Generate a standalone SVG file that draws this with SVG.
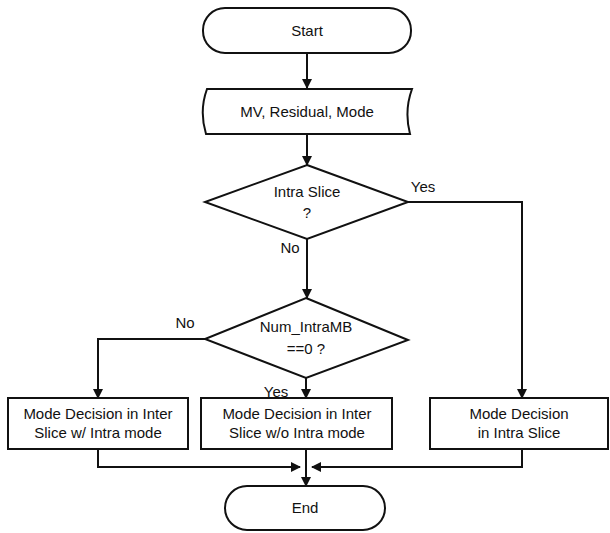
<svg xmlns="http://www.w3.org/2000/svg" width="610" height="533" viewBox="0 0 610 533">
<style>
.s{fill:#fff;stroke:#111;stroke-width:2}
.t{font-family:"Liberation Sans",Arial,sans-serif;font-size:15px;fill:#111;text-anchor:middle}
.c{fill:none;stroke:#111;stroke-width:2}
</style>
<defs>
<marker id="a" markerWidth="10" markerHeight="10" refX="9" refY="5" orient="auto" markerUnits="userSpaceOnUse">
<path d="M0,0 L10,5 L0,10 Z" fill="#111"/>
</marker>
</defs>
<rect width="610" height="533" fill="#fff"/>
<g id="connectors">
<path class="c" d="M307,53 V88" marker-end="url(#a)"/>
<path class="c" d="M307,134 V165" marker-end="url(#a)"/>
<path class="c" d="M408,202 H522 V398" marker-end="url(#a)"/>
<path class="c" d="M307,239 V298" marker-end="url(#a)"/>
<path class="c" d="M205,339 H98 V398" marker-end="url(#a)"/>
<path class="c" d="M306,378 V398" marker-end="url(#a)"/>
<path class="c" d="M98,449 V467 H300" marker-end="url(#a)"/>
<path class="c" d="M522,449 V467 H312" marker-end="url(#a)"/>
<path class="c" d="M306,449 V486" marker-end="url(#a)"/>
</g>
<g id="start">
<rect class="s" x="203" y="8" width="208" height="45" rx="22" ry="22"/>
<text class="t" x="307" y="36">Start</text>
</g>
<g id="input">
<path class="s" d="M207,89 H412 Q404,111 410,134 H206 Q199,111 207,89 Z"/>
<text class="t" x="307" y="117">MV, Residual, Mode</text>
</g>
<g id="d1">
<polygon class="s" points="307,165 408,202 307,239 205,202"/>
<text class="t" x="307" y="197">Intra Slice</text>
<text class="t" x="307" y="218">?</text>
</g>
<text class="t" x="423" y="192">Yes</text>
<text class="t" x="290" y="253">No</text>
<g id="d2">
<polygon class="s" points="306,298 408,340 306,378 205,339"/>
<text class="t" x="306" y="332">Num_IntraMB</text>
<text class="t" x="306" y="354">==0 ?</text>
</g>
<text class="t" x="185" y="328">No</text>
<text class="t" x="276" y="397">Yes</text>
<g id="b1">
<rect class="s" x="8" y="398" width="180" height="51"/>
<text class="t" x="98" y="419">Mode Decision in Inter</text>
<text class="t" x="98" y="438">Slice w/ Intra mode</text>
</g>
<g id="b2">
<rect class="s" x="201" y="398" width="191" height="51"/>
<text class="t" x="297" y="419">Mode Decision in Inter</text>
<text class="t" x="297" y="438">Slice w/o Intra mode</text>
</g>
<g id="b3">
<rect class="s" x="430" y="398" width="178" height="51"/>
<text class="t" x="519" y="419">Mode Decision</text>
<text class="t" x="519" y="438">in Intra Slice</text>
</g>
<g id="end">
<rect class="s" x="225" y="486" width="160" height="44" rx="22" ry="22"/>
<text class="t" x="305" y="513">End</text>
</g>
</svg>
